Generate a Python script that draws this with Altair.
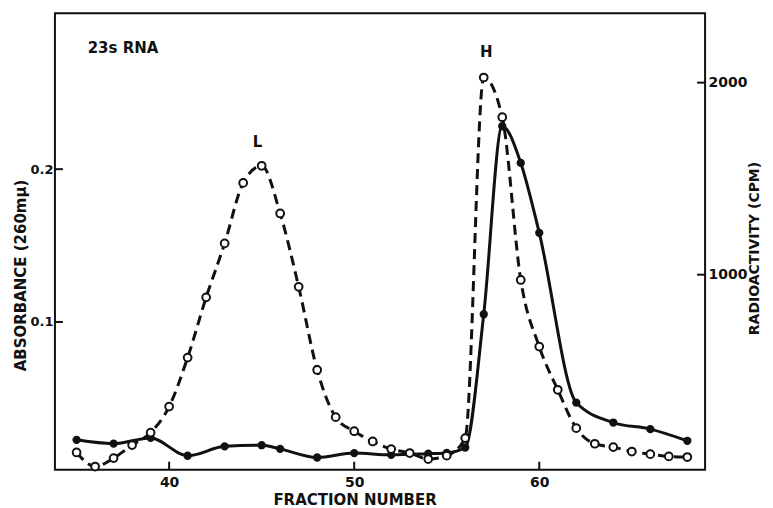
import altair as alt
import pandas as pd

# ---- data ----
abs_fraction = list(range(35, 69))
absorbance = [0.0146, 0.0054, 0.0109, 0.0194, 0.0276, 0.0446, 0.0767, 0.1161,
              0.1514, 0.191, 0.2022, 0.171, 0.123, 0.0686, 0.0377, 0.0285,
              0.0218, 0.0168, 0.0142, 0.0103, 0.0125, 0.024, 0.260, 0.234,
              0.1275, 0.0839, 0.0556, 0.0305, 0.0203, 0.0181, 0.0152, 0.0135,
              0.012, 0.0116]

cpm_fraction = [35, 37, 39, 41, 43, 45, 46, 48, 50, 52, 54, 55, 56, 57, 58, 59,
                60, 62, 64, 66, 68]
cpm = [140, 120, 150, 57, 106, 112, 93, 48, 71, 62, 68, 72, 100, 794, 1773,
       1582, 1218, 334, 230, 196, 135]

x_ticks = [40, 50, 60]
left_ticks = [0.1, 0.2]
right_ticks = [1000, 2000]

title_x = [35.6]
title_y = [0.279]
title_text = ["23s RNA"]

peak_x = [44.78, 57.14]
peak_y = [0.2176, 0.2765]
peak_text = ["L", "H"]

# ---- layout ----
W, H = 651, 457
XDOM = [33.83, 68.96]
LDOM = [0.0033, 0.302]
RDOM = [-15.6, 2361]
FONT = "DejaVu Sans"
INK = "#111111"

df_abs = pd.DataFrame({"x": abs_fraction, "y": absorbance})
df_cpm = pd.DataFrame({"x": cpm_fraction, "y": cpm})
df_xt = pd.DataFrame({"x": x_ticks})
df_lt = pd.DataFrame({"y": left_ticks})
df_rt = pd.DataFrame({"y": right_ticks})
df_title = pd.DataFrame({"x": title_x, "y": title_y, "t": title_text})
df_peaks = pd.DataFrame({"x": peak_x, "y": peak_y, "t": peak_text})

x_enc = alt.X(
    "x:Q",
    scale=alt.Scale(domain=XDOM, nice=False, zero=False),
    axis=alt.Axis(values=x_ticks, format="d", title="FRACTION NUMBER", grid=False,
                  domain=False, tickSize=0, labelPadding=6, labelFont=FONT,
                  labelFontSize=14, labelFontWeight="bold", labelColor=INK,
                  titleFont=FONT, titleFontSize=15, titleFontWeight="bold",
                  titleColor=INK, titleX=300, titleY=23, titleAlign="center",
                  titleBaseline="top"),
)

y_left = alt.Y(
    "y:Q",
    scale=alt.Scale(domain=LDOM, nice=False, zero=False),
    axis=alt.Axis(values=left_ticks, format=".1f", title="ABSORBANCE (260mµ)",
                  grid=False, domain=False, tickSize=0, labelPadding=2,
                  labelFont=FONT, labelFontSize=13, labelFontWeight="bold",
                  labelColor=INK, titleFont=FONT, titleFontSize=15,
                  titleFontWeight="bold", titleColor=INK, titleAngle=270,
                  titleX=-34, titleY=262, titleAlign="center",
                  titleBaseline="middle"),
)

y_left_plain = alt.Y("y:Q", scale=alt.Scale(domain=LDOM, nice=False, zero=False),
                     axis=None)

y_right = alt.Y(
    "y:Q",
    scale=alt.Scale(domain=RDOM, nice=False, zero=False),
    axis=alt.Axis(orient="right", values=right_ticks, format="d",
                  title="RADIOACTIVITY (CPM)", grid=False, domain=False,
                  tickSize=0, labelPadding=3, labelFont=FONT, labelFontSize=14,
                  labelFontWeight="bold", labelColor=INK, titleFont=FONT,
                  titleFontSize=14, titleFontWeight="bold", titleColor=INK,
                  titleAngle=270, titleX=49, titleY=235, titleAlign="center",
                  titleBaseline="middle"),
)

abs_line = alt.Chart(df_abs).mark_line(
    color=INK, strokeWidth=3, strokeDash=[10, 6], interpolate="monotone"
).encode(x=x_enc, y=y_left)

abs_pts = alt.Chart(df_abs).mark_point(
    shape="circle", filled=True, fill="white", stroke=INK, strokeWidth=2,
    size=60, opacity=1
).encode(x=x_enc, y=y_left_plain)

x_tick_rules = alt.Chart(df_xt).mark_rule(color=INK, strokeWidth=2).encode(
    x=x_enc, y=alt.value(H), y2=alt.value(H - 8)
)

left_tick_rules = alt.Chart(df_lt).mark_rule(color=INK, strokeWidth=2).encode(
    y=y_left, x=alt.value(0), x2=alt.value(8)
)

title_note = alt.Chart(df_title).mark_text(
    font=FONT, fontSize=15, fontWeight="bold", color=INK, baseline="middle",
    align="left"
).encode(x=x_enc, y=y_left, text="t:N")

peak_notes = alt.Chart(df_peaks).mark_text(
    font=FONT, fontSize=15, fontWeight="bold", color=INK, baseline="middle",
    align="center"
).encode(x=x_enc, y=y_left, text="t:N")

cpm_line = alt.Chart(df_cpm).mark_line(
    color=INK, strokeWidth=3, interpolate="monotone"
).encode(x=x_enc, y=y_right)

cpm_pts = alt.Chart(df_cpm).mark_point(
    shape="circle", filled=True, fill=INK, stroke=INK, size=40, opacity=1
).encode(x=x_enc, y=y_right)

right_tick_rules = alt.Chart(df_rt).mark_rule(color=INK, strokeWidth=2).encode(
    y=y_right, x=alt.value(W - 8), x2=alt.value(W)
)

left_group = alt.layer(abs_line, x_tick_rules, left_tick_rules, title_note,
                       peak_notes)
right_group = alt.layer(cpm_line, cpm_pts, right_tick_rules)

chart = alt.layer(left_group, right_group, abs_pts).resolve_scale(
    y="independent"
).properties(
    width=W, height=H,
    padding={"left": 47, "top": 5, "right": 60, "bottom": 38},
    autosize=alt.AutoSizeParams(type="none"),
    background="white",
).configure_view(stroke=INK, strokeWidth=2)

chart.save("out.html", embed_options={"renderer": "svg", "actions": False})
